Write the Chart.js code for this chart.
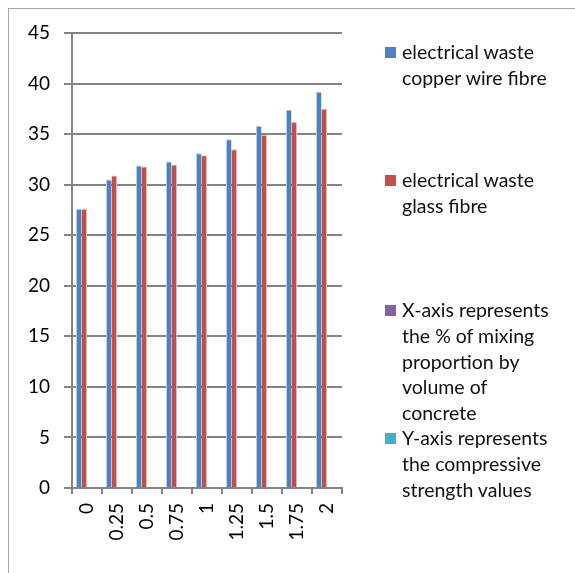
<!DOCTYPE html>
<html>
<head>
<meta charset="utf-8">
<script src="https://cdn.jsdelivr.net/npm/chart.js@4/dist/chart.umd.min.js"></script>
<style>
  html, body { margin: 0; padding: 0; width: 575px; height: 573px; overflow: hidden; background: #fff; }
  #frame { position: absolute; left: 8px; top: 8px; width: 620px; height: 620px; border: 1px solid #a6a6a6; box-sizing: border-box; }
  #wrap { position: absolute; left: 0; top: 0; width: 575px; height: 573px; }
  .leg { position: absolute; left: 385px; font-family: Lato, "Open Sans", sans-serif; font-size: 19.5px; line-height: 25.7px; color: #111; white-space: nowrap; }
  .leg .sw { position: absolute; left: 0; width: 11px; height: 11px; }
  .leg .tx { position: absolute; left: 17px; top: 0; }
</style>
</head>
<body>
<div id="frame"></div>
<div id="wrap"><canvas id="c" width="575" height="573"></canvas></div>
<div id="legend"></div>
<script>
// Mixing proportion (% by volume of concrete)
const categories = ['0', '0.25', '0.5', '0.75', '1', '1.25', '1.5', '1.75', '2'];
// Compressive strength values
const copperWireFibre = [27.6, 30.5, 31.9, 32.3, 33.1, 34.5, 35.8, 37.4, 39.2];
const glassFibre = [27.6, 30.9, 31.8, 32.0, 32.9, 33.5, 34.9, 36.2, 37.5];
const yTicks = [0, 5, 10, 15, 20, 25, 30, 35, 40, 45];

// Series names, split into the lines shown in the legend
const seriesLines = [
  ['electrical waste', 'copper wire fibre'],
  ['electrical waste', 'glass fibre'],
  ['X-axis represents', 'the % of mixing', 'proportion by', 'volume of', 'concrete'],
  ['Y-axis represents', 'the compressive', 'strength values']
];
const seriesColors = ['#4F81BD', '#C0504D', '#8064A2', '#4BACC6'];
const seriesEdges = ['#b8cce4', '#e6b9b8', '#ccc1da', '#b7dee8'];
const legendFirstLineY = [52, 180, 310, 438];

const axisColor = '#848484';
const tickFont = { family: 'Lato, "Open Sans", sans-serif', size: 19 };

const seriesValues = [copperWireFibre, glassFibre, categories.map(() => null), categories.map(() => null)];

const datasets = seriesLines.map((lines, i) => ({
  label: lines.join(' '),
  data: seriesValues[i],
  backgroundColor: seriesColors[i],
  borderColor: seriesEdges[i],
  borderWidth: i === 0 ? { left: 1, top: 1, right: 0, bottom: 0 } : { left: 0, top: 1, right: 1, bottom: 0 },
  borderSkipped: false,
  categoryPercentage: 0.733,
  barPercentage: 1.0
}));

new Chart(document.getElementById('c'), {
  type: 'bar',
  data: { labels: categories, datasets },
  options: {
    responsive: false,
    animation: false,
    layout: { padding: { left: 0, top: 33, right: 233, bottom: 0 } },
    plugins: { legend: { display: false }, tooltip: { enabled: false } },
    scales: {
      x: {
        type: 'category',
        offset: true,
        grid: { offset: true, drawOnChartArea: false, drawTicks: true, tickLength: 6, color: axisColor, lineWidth: 2 },
        border: { display: true, color: axisColor, width: 2 },
        ticks: { minRotation: 90, maxRotation: 90, padding: 9, color: '#000', font: tickFont, autoSkip: false },
        afterFit: (s) => { s.height = 85; }
      },
      y: {
        min: 0,
        max: 45,
        afterBuildTicks: (s) => { s.ticks = yTicks.map(v => ({ value: v })); },
        grid: { color: axisColor, lineWidth: 2, tickLength: 8, drawTicks: true },
        border: { display: true, color: axisColor, width: 2 },
        ticks: { padding: 14, color: '#000', font: tickFont },
        afterFit: (s) => { s.width = 72; }
      }
    }
  }
});

// Legend drawn as HTML text to the right of the plot
const legend = document.getElementById('legend');
seriesLines.forEach((lines, i) => {
  const item = document.createElement('div');
  item.className = 'leg';
  item.style.top = (legendFirstLineY[i] - 12.85) + 'px';
  const sw = document.createElement('div');
  sw.className = 'sw';
  sw.style.background = seriesColors[i];
  sw.style.top = '7.5px';
  const tx = document.createElement('div');
  tx.className = 'tx';
  tx.innerHTML = lines.map(l => l.replace(/&/g, '&amp;').replace(/</g, '&lt;')).join('<br>');
  item.appendChild(sw);
  item.appendChild(tx);
  legend.appendChild(item);
});
</script>
</body>
</html>
